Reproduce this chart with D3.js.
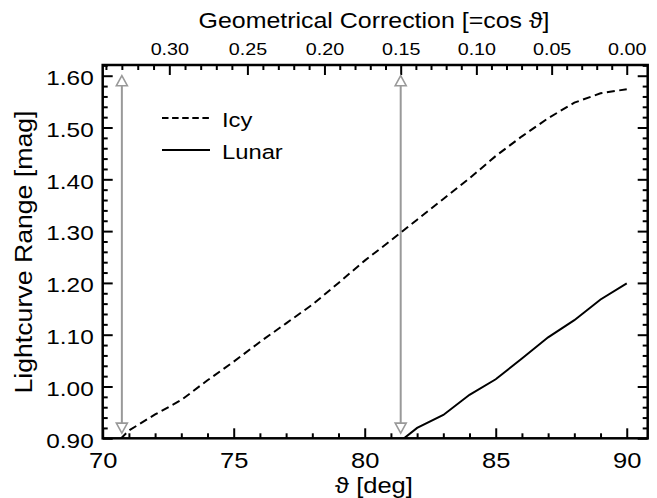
<!DOCTYPE html>
<html>
<head>
<meta charset="utf-8">
<script src="https://cdn.jsdelivr.net/npm/d3@7"></script>
<style>
  html, body { margin: 0; padding: 0; background: #fff; }
  svg { display: block; }
  text { font-family: "Liberation Sans", Arial, Helvetica, sans-serif; fill: #000; }
</style>
</head>
<body>
<svg id="chart" width="657" height="498"></svg>
<script>
// ---- data ----
const icyTheta = [70, 71, 72, 73, 74, 75, 76, 77, 78, 79, 80, 81, 82, 83, 84, 85, 86, 87, 88, 89, 90];
const icyRange = [0.865, 0.915, 0.946, 0.974, 1.012, 1.048, 1.086, 1.122, 1.158, 1.200, 1.243, 1.282, 1.322, 1.362, 1.402, 1.445, 1.483, 1.518, 1.548, 1.566, 1.574];
const lunarTheta = [81, 82, 83, 84, 85, 86, 87, 88, 89, 90];
const lunarRange = [0.880, 0.920, 0.945, 0.984, 1.014, 1.054, 1.095, 1.128, 1.168, 1.199];
const thetaMajorTicks = [70, 75, 80, 85, 90];
const thetaMinorTicks = [71, 72, 73, 74, 76, 77, 78, 79, 81, 82, 83, 84, 86, 87, 88, 89];
const rangeMajorTicks = [0.90, 1.00, 1.10, 1.20, 1.30, 1.40, 1.50, 1.60];
const rangeMinorTicks = [0.92, 0.94, 0.96, 0.98, 1.02, 1.04, 1.06, 1.08, 1.12, 1.14, 1.16, 1.18, 1.22, 1.24, 1.26, 1.28, 1.32, 1.34, 1.36, 1.38, 1.42, 1.44, 1.46, 1.48, 1.52, 1.54, 1.56, 1.58, 1.62];
const cosMajorTicks = [0.30, 0.25, 0.20, 0.15, 0.10, 0.05, 0.00];
const cosMinorTicks = [0.34, 0.33, 0.32, 0.31, 0.29, 0.28, 0.27, 0.26, 0.24, 0.23, 0.22, 0.21, 0.19, 0.18, 0.17, 0.16, 0.14, 0.13, 0.12, 0.11, 0.09, 0.08, 0.07, 0.06, 0.04, 0.03, 0.02, 0.01];
const arrowCos = [0.33, 0.15];
const arrowRange = [0.91, 1.60];
const seriesNames = ["Icy", "Lunar"];
const titleTop = "Geometrical Correction [=cos \u03D1]";
const titleBottom = "\u03D1 [deg]";
const titleLeft = "Lightcurve Range [mag]";

// ---- layout ----
const svg = d3.select("#chart");
const L = 102.7, R = 647.7, T = 65, B = 438.3;
const S = 1.16; // horizontal glyph stretch
const x = d3.scaleLinear().domain([70, 90.8]).range([L, R]);
const y = d3.scaleLinear().domain([0.90, 1.6207]).range([B, T]);
const acosDeg = c => Math.acos(c) * 180 / Math.PI;

function stretch(sel) {
  sel.each(function () {
    const t = d3.select(this);
    const tx = +t.attr("x") || 0, ty = +t.attr("y") || 0;
    t.attr("x", 0).attr("y", 0).attr("transform", `translate(${tx},${ty}) scale(${S},1)`);
  });
}
function styleAxis(g) {
  g.select(".domain").remove();
  g.selectAll(".tick line").attr("stroke", "#000").attr("stroke-width", 2);
}

// clip
svg.append("clipPath").attr("id", "clip")
  .append("rect").attr("x", L).attr("y", T).attr("width", R - L).attr("height", B - T);

// bottom axis
const gb = svg.append("g").attr("transform", `translate(0,${B})`)
  .call(d3.axisBottom(x).tickValues(thetaMajorTicks).tickSizeInner(-10).tickSizeOuter(0).tickPadding(14).tickFormat(d3.format("d")));
styleAxis(gb);
gb.selectAll("text").attr("font-size", 22).attr("font-family", null);
stretch(gb.selectAll("text"));
const gbm = svg.append("g").attr("transform", `translate(0,${B})`)
  .call(d3.axisBottom(x).tickValues(thetaMinorTicks).tickSizeInner(-5).tickSizeOuter(0).tickFormat(""));
styleAxis(gbm);

// top axis (cos theta)
const gt = svg.append("g").attr("transform", `translate(0,${T})`)
  .call(d3.axisTop(x).tickValues(cosMajorTicks.map(acosDeg)).tickSizeInner(-10).tickSizeOuter(0).tickPadding(10)
    .tickFormat(d => Math.abs(Math.cos(d * Math.PI / 180)).toFixed(2)));
styleAxis(gt);
gt.selectAll("text").attr("font-size", 17).attr("font-family", null);
stretch(gt.selectAll("text"));
const gtm = svg.append("g").attr("transform", `translate(0,${T})`)
  .call(d3.axisTop(x).tickValues(cosMinorTicks.map(acosDeg)).tickSizeInner(-5).tickSizeOuter(0).tickFormat(""));
styleAxis(gtm);

// left axis
const gl = svg.append("g").attr("transform", `translate(${L},0)`)
  .call(d3.axisLeft(y).tickValues(rangeMajorTicks).tickSizeInner(-10).tickSizeOuter(0).tickPadding(9).tickFormat(d3.format(".2f")));
styleAxis(gl);
gl.selectAll("text").attr("font-size", 21).attr("font-family", null).attr("dy", "0.42em");
stretch(gl.selectAll("text"));
const glm = svg.append("g").attr("transform", `translate(${L},0)`)
  .call(d3.axisLeft(y).tickValues(rangeMinorTicks).tickSizeInner(-5).tickSizeOuter(0).tickFormat(""));
styleAxis(glm);

// right axis
const gr = svg.append("g").attr("transform", `translate(${R},0)`)
  .call(d3.axisRight(y).tickValues(rangeMajorTicks).tickSizeInner(-10).tickSizeOuter(0).tickFormat(""));
styleAxis(gr);
const grm = svg.append("g").attr("transform", `translate(${R},0)`)
  .call(d3.axisRight(y).tickValues(rangeMinorTicks).tickSizeInner(-5).tickSizeOuter(0).tickFormat(""));
styleAxis(grm);

// frame
svg.append("rect").attr("x", L).attr("y", T).attr("width", R - L).attr("height", B - T)
  .attr("fill", "none").attr("stroke", "#000").attr("stroke-width", 2.5);

// arrows
const grey = "#999";
const aw = 5.5, ah = 10;
arrowCos.forEach(c => {
  const ax = x(acosDeg(c));
  const yTop = y(arrowRange[1]), yBot = y(arrowRange[0]);
  svg.append("line").attr("x1", ax).attr("x2", ax).attr("y1", yTop + ah).attr("y2", yBot - ah)
    .attr("stroke", grey).attr("stroke-width", 2);
  svg.append("path").attr("d", `M${ax},${yTop} L${ax - aw},${yTop + ah} L${ax + aw},${yTop + ah} Z`)
    .attr("fill", "#fff").attr("stroke", grey).attr("stroke-width", 1.6);
  svg.append("path").attr("d", `M${ax},${yBot} L${ax - aw},${yBot - ah} L${ax + aw},${yBot - ah} Z`)
    .attr("fill", "#fff").attr("stroke", grey).attr("stroke-width", 1.6);
});

// curves
const line = d3.line().x(d => x(d[0])).y(d => y(d[1]));
svg.append("path").datum(icyTheta.map((t, i) => [t, icyRange[i]]))
  .attr("clip-path", "url(#clip)").attr("d", line)
  .attr("fill", "none").attr("stroke", "#000").attr("stroke-width", 2).attr("stroke-dasharray", "8,4.5");
svg.append("path").datum(lunarTheta.map((t, i) => [t, lunarRange[i]]))
  .attr("clip-path", "url(#clip)").attr("d", line)
  .attr("fill", "none").attr("stroke", "#000").attr("stroke-width", 2);

// legend
const legend = svg.append("g");
[0, 1].forEach(i => {
  const ly = 118 + i * 32;
  legend.append("line").attr("x1", 162).attr("x2", 210).attr("y1", ly).attr("y2", ly)
    .attr("stroke", "#000").attr("stroke-width", 2)
    .attr("stroke-dasharray", i === 0 ? "6.5,3.6" : null);
  legend.append("text").attr("transform", `translate(222,${ly + 9}) scale(${S},1)`)
    .attr("font-size", 20.5).text(seriesNames[i]);
});

// titles
svg.append("text").attr("transform", `translate(374,28) scale(${S},1)`)
  .attr("text-anchor", "middle").attr("font-size", 21.5).text(titleTop);
svg.append("text").attr("transform", `translate(374,493) scale(${S},1)`)
  .attr("text-anchor", "middle").attr("font-size", 22).text(titleBottom);
svg.append("text").attr("transform", `translate(32,252) rotate(-90) scale(${S},1)`)
  .attr("text-anchor", "middle").attr("font-size", 23).text(titleLeft);
</script>
</body>
</html>
